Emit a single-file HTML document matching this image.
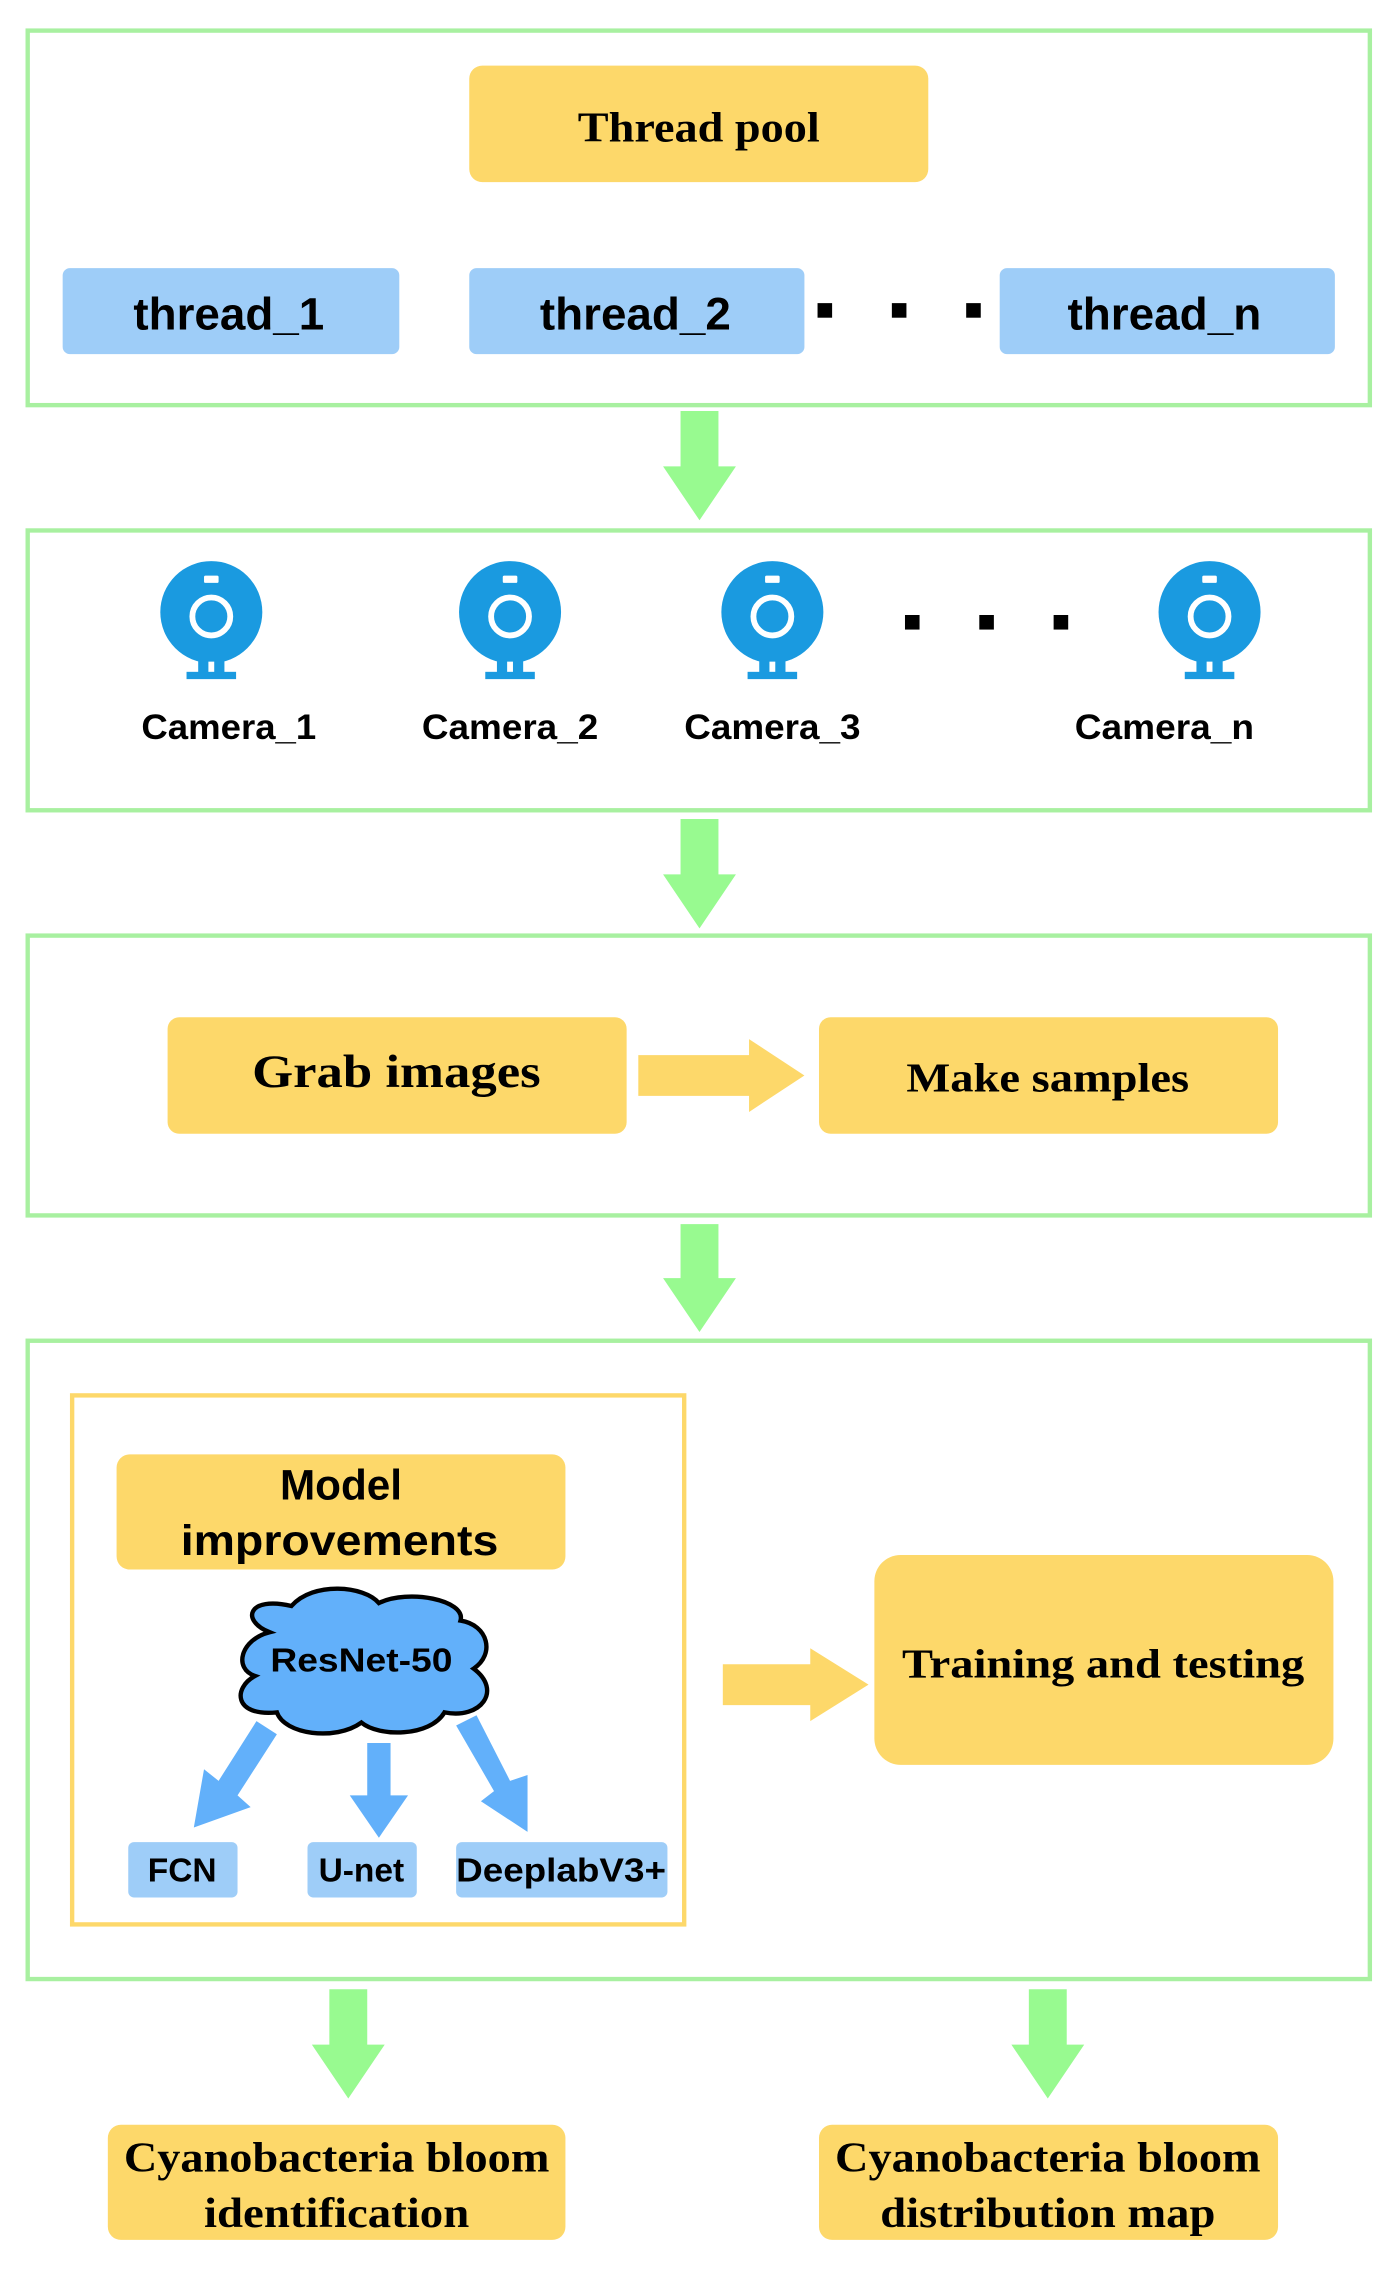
<!DOCTYPE html>
<html><head><meta charset="utf-8"><style>html,body{margin:0;padding:0;background:#fff}svg{display:block}</style></head><body>
<svg width="1399" height="2280" viewBox="0 0 960 1564.5" preserveAspectRatio="none" xmlns="http://www.w3.org/2000/svg">
<defs>
<g id="cam">
<circle cx="0" cy="0" r="35" fill="#1a9ae0"/>
<circle cx="0" cy="3" r="13" fill="none" stroke="#fff" stroke-width="4"/>
<rect x="-5" y="-25" width="10" height="5" fill="#fff" rx="1"/>
<rect x="-9" y="30" width="18" height="12" fill="#1a9ae0"/>
<rect x="-2" y="34" width="4" height="8" fill="#fff"/>
<rect x="-17" y="41" width="34" height="5" fill="#1a9ae0"/>
</g>
</defs>
<g fill="none" stroke="#a8f0a0" stroke-width="3">
<rect x="19" y="21" width="921" height="257"/>
<rect x="19" y="364" width="921" height="192"/>
<rect x="19" y="642" width="921" height="192"/>
<rect x="19" y="920" width="921" height="438"/>
</g>
<rect x="49.5" y="957.5" width="420" height="363" fill="none" stroke="#fdd86a" stroke-width="3"/>
<rect x="322" y="45" width="315" height="80" rx="9" fill="#fdd86a"/>
<text x="479.5" y="97" font-family="Liberation Serif,serif" font-weight="bold" font-size="29" text-anchor="middle" textLength="166" lengthAdjust="spacingAndGlyphs">Thread pool</text>
<g fill="#9ecdf8">
<rect x="43" y="184" width="231" height="59" rx="5"/>
<rect x="322" y="184" width="230" height="59" rx="5"/>
<rect x="686" y="184" width="230" height="59" rx="5"/>
</g>
<g font-family="Liberation Sans,sans-serif" font-weight="bold" font-size="31" text-anchor="middle">
<text x="157" y="226" textLength="131" lengthAdjust="spacingAndGlyphs">thread_1</text>
<text x="436" y="226" textLength="131" lengthAdjust="spacingAndGlyphs">thread_2</text>
<text x="799" y="226" textLength="133" lengthAdjust="spacingAndGlyphs">thread_n</text>
</g>
<g fill="#000"><rect x="561" y="208" width="10" height="10"/><rect x="612" y="208" width="10" height="10"/><rect x="663" y="208" width="10" height="10"/>
<rect x="621" y="422" width="10" height="10"/><rect x="672" y="422" width="10" height="10"/><rect x="723" y="422" width="10" height="10"/></g>
<g fill="#98fa90">
<polygon points="467,282 493,282 493,320 505,320 480,357 455,320 467,320"/>
<polygon points="467,562 493,562 493,600 505,600 480,637 455,600 467,600"/>
<polygon points="467,840 493,840 493,877 505,877 480,914 455,877 467,877"/>
<polygon points="226,1365 252,1365 252,1403 264,1403 239,1440 214,1403 226,1403"/>
<polygon points="706,1365 732,1365 732,1403 744,1403 719,1440 694,1403 706,1403"/>
</g>
<use href="#cam" x="145" y="420"/>
<use href="#cam" x="350" y="420"/>
<use href="#cam" x="530" y="420"/>
<use href="#cam" x="830" y="420"/>
<g font-family="Liberation Sans,sans-serif" font-weight="bold" font-size="24" text-anchor="middle">
<text x="157" y="507" textLength="120" lengthAdjust="spacingAndGlyphs">Camera_1</text>
<text x="350" y="507" textLength="121" lengthAdjust="spacingAndGlyphs">Camera_2</text>
<text x="530" y="507" textLength="121" lengthAdjust="spacingAndGlyphs">Camera_3</text>
<text x="799" y="507" textLength="123" lengthAdjust="spacingAndGlyphs">Camera_n</text>
</g>
<rect x="115" y="698" width="315" height="80" rx="8" fill="#fdd86a"/>
<rect x="562" y="698" width="315" height="80" rx="8" fill="#fdd86a"/>
<polygon points="438,724 514,724 514,713 552,738 514,763 514,752 438,752" fill="#fdd86a"/>
<text x="272" y="746" font-family="Liberation Serif,serif" font-weight="bold" font-size="32" text-anchor="middle" textLength="198" lengthAdjust="spacingAndGlyphs">Grab images</text>
<text x="719" y="749" font-family="Liberation Serif,serif" font-weight="bold" font-size="28" text-anchor="middle" textLength="194" lengthAdjust="spacingAndGlyphs">Make samples</text>
<rect x="80" y="998" width="308" height="79" rx="9" fill="#fdd86a"/>
<g font-family="Liberation Sans,sans-serif" font-weight="bold" font-size="29" text-anchor="middle">
<text x="234" y="1029">Model</text>
<text x="233" y="1067" textLength="218" lengthAdjust="spacingAndGlyphs">improvements</text>
</g>
<path d="M185,1120 C165,1112 170,1095 200,1102 C215,1085 250,1088 260,1100 C280,1090 320,1098 316,1112 C335,1115 340,1135 325,1145 C345,1160 330,1180 305,1175 C295,1192 260,1192 248,1182 C230,1195 195,1190 190,1175 C160,1178 160,1158 175,1150 C160,1145 165,1125 185,1120 Z" fill="#62b0fa" stroke="#000" stroke-width="3"/>
<text x="248" y="1147" font-family="Liberation Sans,sans-serif" font-weight="bold" font-size="23" text-anchor="middle" textLength="125" lengthAdjust="spacingAndGlyphs">ResNet-50</text>
<g fill="#62b0fa">
<polygon points="176,1181 190,1190 163,1232 172,1240 133,1254 140,1214 150,1222"/>
<polygon points="252,1196 268,1196 268,1232 280,1232 260,1261 240,1232 252,1232"/>
<polygon points="313,1184 327,1177 350,1222 362,1218 362,1257 330,1236 339,1229"/>
</g>
<g fill="#9ecdf8">
<rect x="88" y="1264" width="75" height="38" rx="4"/>
<rect x="211" y="1264" width="75" height="38" rx="4"/>
<rect x="313" y="1264" width="145" height="38" rx="4"/>
</g>
<g font-family="Liberation Sans,sans-serif" font-weight="bold" font-size="23" text-anchor="middle">
<text x="125" y="1291">FCN</text>
<text x="248" y="1291">U-net</text>
<text x="385" y="1291" textLength="144" lengthAdjust="spacingAndGlyphs">DeeplabV3+</text>
</g>
<polygon points="496,1142 556,1142 556,1131 596,1156 556,1181 556,1170 496,1170" fill="#fdd86a"/>
<rect x="600" y="1067" width="315" height="144" rx="18" fill="#fdd86a"/>
<text x="757" y="1151" font-family="Liberation Serif,serif" font-weight="bold" font-size="28" text-anchor="middle" textLength="276" lengthAdjust="spacingAndGlyphs">Training and testing</text>
<rect x="74" y="1458" width="314" height="79" rx="9" fill="#fdd86a"/>
<rect x="562" y="1458" width="315" height="79" rx="9" fill="#fdd86a"/>
<g font-family="Liberation Serif,serif" font-weight="bold" font-size="29" text-anchor="middle">
<text x="231" y="1490" textLength="292" lengthAdjust="spacingAndGlyphs">Cyanobacteria bloom</text>
<text x="231" y="1528" textLength="182" lengthAdjust="spacingAndGlyphs">identification</text>
<text x="719" y="1490" textLength="292" lengthAdjust="spacingAndGlyphs">Cyanobacteria bloom</text>
<text x="719" y="1528" textLength="230" lengthAdjust="spacingAndGlyphs">distribution map</text>
</g>
</svg>
</body></html>
